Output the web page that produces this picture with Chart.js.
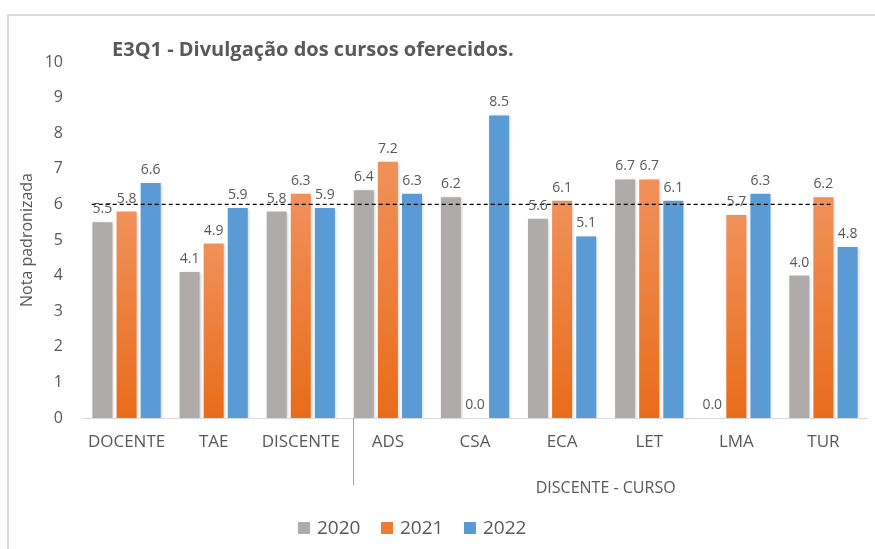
<!DOCTYPE html>
<html>
<head>
<meta charset="utf-8">
<script src="https://cdn.jsdelivr.net/npm/chart.js@4.4.1/dist/chart.umd.min.js"></script>
<style>
  html, body { margin: 0; padding: 0; background: #fff; }
  #wrap { width: 875px; height: 549px; position: relative; }
</style>
</head>
<body>
<div id="wrap"><canvas id="chart" width="875" height="549"></canvas></div>
<script>
// chart data
var categories = ['DOCENTE', 'TAE', 'DISCENTE', 'ADS', 'CSA', 'ECA', 'LET', 'LMA', 'TUR'];
var years = ['2020', '2021', '2022'];
var values2020 = [5.5, 4.1, 5.8, 6.4, 6.2, 5.6, 6.7, 0.0, 4.0];
var values2021 = [5.8, 4.9, 6.3, 7.2, 0.0, 6.1, 6.7, 5.7, 6.2];
var values2022 = [6.6, 5.9, 5.9, 6.3, 8.5, 5.1, 6.1, 6.3, 4.8];
var targetValue = 6;
var groupLabel = 'DISCENTE - CURSO';
var groupStart = 3;   // first category under the group label
var titleText = 'E3Q1 - Divulgação dos cursos oferecidos.';

var textColor = '#595959';
var grey = '#AEABAA';
var orange = '#ED7D31';
var blue = '#5B9BD5';

function orangeFill(context) {
  var chart = context.chart;
  var y = chart.scales.y;
  if (!y || context.raw == null) return orange;
  var top = y.getPixelForValue(context.raw);
  var bottom = y.getPixelForValue(0);
  if (!isFinite(top) || !isFinite(bottom) || top >= bottom) return orange;
  var g = chart.ctx.createLinearGradient(0, top, 0, bottom);
  g.addColorStop(0, '#F1915A');
  g.addColorStop(1, '#E86C1A');
  return g;
}

// frame, title, target line, value labels, group label, legend
var decorations = {
  id: 'decorations',
  beforeDraw: function(chart) {
    var ctx = chart.ctx;
    ctx.save();
    ctx.strokeStyle = '#D9D9D9';
    ctx.lineWidth = 2;
    ctx.beginPath();
    ctx.moveTo(875, 15);
    ctx.lineTo(8, 15);
    ctx.lineTo(8, 549);
    ctx.stroke();

    ctx.fillStyle = textColor;
    ctx.font = 'bold 20px "Open Sans"';
    ctx.textBaseline = 'alphabetic';
    ctx.textAlign = 'left';
    ctx.fillText(titleText, 112, 56);
    ctx.restore();
  },
  beforeDatasetsDraw: function(chart) {
    var ctx = chart.ctx;
    ctx.save();
    ctx.shadowColor = 'rgba(0,0,0,0.22)';
    ctx.shadowBlur = 3;
    ctx.shadowOffsetX = 1;
    ctx.shadowOffsetY = 1;
  },
  afterDatasetsDraw: function(chart) {
    var ctx = chart.ctx;
    ctx.restore();
    var x = chart.scales.x, y = chart.scales.y;
    var step = x.getPixelForValue(1) - x.getPixelForValue(0);

    // target line
    ctx.save();
    ctx.strokeStyle = '#000';
    ctx.lineWidth = 1.3;
    ctx.setLineDash([4, 3]);
    ctx.beginPath();
    var ty = y.getPixelForValue(targetValue);
    ctx.moveTo(x.getPixelForValue(0) - step * 0.4, ty);
    ctx.lineTo(x.getPixelForValue(categories.length - 1) + step * 0.08, ty);
    ctx.stroke();
    ctx.restore();

    // value labels
    ctx.save();
    ctx.font = '14px "Open Sans"';
    ctx.fillStyle = textColor;
    ctx.textAlign = 'center';
    ctx.textBaseline = 'alphabetic';
    chart.data.datasets.forEach(function(ds, i) {
      chart.getDatasetMeta(i).data.forEach(function(bar, j) {
        ctx.fillText(ds.data[j].toFixed(1), bar.x, bar.y - 9);
      });
    });
    ctx.restore();
  },
  afterDraw: function(chart) {
    var ctx = chart.ctx;
    var x = chart.scales.x;
    var area = chart.chartArea;
    ctx.save();
    // separator between the general groups and the courses
    var step = x.getPixelForValue(1) - x.getPixelForValue(0);
    var sep = x.getPixelForValue(groupStart) - step * 0.4;
    ctx.strokeStyle = '#A6A6A6';
    ctx.lineWidth = 1;
    ctx.beginPath();
    ctx.moveTo(Math.round(sep) + 0.5, area.bottom);
    ctx.lineTo(Math.round(sep) + 0.5, area.bottom + 67);
    ctx.stroke();

    var gx = (x.getPixelForValue(groupStart) + x.getPixelForValue(categories.length - 1)) / 2;
    ctx.font = '16px "Open Sans"';
    ctx.fillStyle = textColor;
    ctx.textAlign = 'center';
    ctx.textBaseline = 'middle';
    ctx.fillText(groupLabel, gx, area.bottom + 70);

    // legend
    var lx = 298;
    var ly = 528;
    ctx.font = '19px "Open Sans"';
    ctx.textAlign = 'left';
    chart.data.datasets.forEach(function(ds, i) {
      ctx.fillStyle = ds.legendColor;
      ctx.fillRect(lx, ly - 6, 12, 12);
      ctx.fillStyle = textColor;
      ctx.fillText(ds.label, lx + 19, ly + 1);
      lx += 83;
    });
    ctx.restore();
  }
};

new Chart(document.getElementById('chart'), {
  type: 'bar',
  data: {
    labels: categories,
    datasets: [
      { label: years[0], data: values2020, backgroundColor: grey, legendColor: grey },
      { label: years[1], data: values2021, backgroundColor: orangeFill, legendColor: orange },
      { label: years[2], data: values2022, backgroundColor: blue, legendColor: blue }
    ]
  },
  options: {
    responsive: false,
    animation: false,
    devicePixelRatio: 1,
    categoryPercentage: 0.83,
    barPercentage: 0.83,
    layout: { padding: { left: 0, right: 8, top: 62, bottom: 0 } },
    plugins: {
      legend: { display: false },
      title: { display: false },
      tooltip: { enabled: false }
    },
    scales: {
      x: {
        grid: { display: false, drawTicks: false },
        border: { display: true, color: '#D9D9D9', width: 1 },
        ticks: {
          color: textColor,
          font: { family: 'Open Sans', size: 17 },
          padding: 14,
          autoSkip: false,
          maxRotation: 0
        },
        afterFit: function(scale) { scale.height = 131; }
      },
      y: {
        min: 0,
        max: 10,
        grid: { display: false, drawTicks: false },
        border: { display: false },
        ticks: {
          stepSize: 1,
          color: textColor,
          font: { family: 'Open Sans', size: 16 },
          padding: 20
        },
        title: {
          display: true,
          text: 'Nota padronizada',
          color: textColor,
          font: { family: 'Open Sans', size: 16 },
          padding: { top: 18, bottom: 0 }
        },
        afterFit: function(scale) { scale.width = 83; }
      }
    }
  },
  plugins: [decorations]
});
</script>
</body>
</html>
